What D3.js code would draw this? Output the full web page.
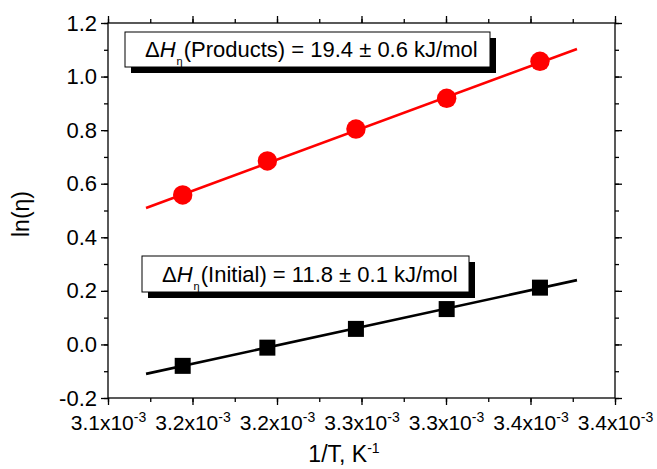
<!DOCTYPE html>
<html>
<head>
<meta charset="utf-8">
<script src="https://cdn.jsdelivr.net/npm/d3@7"></script>
<style>
  html, body { margin: 0; padding: 0; background: #fff; }
  text { font-family: "Liberation Sans", Arial, sans-serif; fill: #000; }
</style>
</head>
<body>
<svg id="chart" width="657" height="469"></svg>
<script>
// ---- data ----
const invT = [3.1442, 3.1943, 3.2467, 3.3004, 3.3556];          // 1/T, x10^-3 K^-1
const lnEtaProducts = [0.558, 0.685, 0.804, 0.919, 1.057];
const lnEtaInitial = [-0.080, -0.012, 0.058, 0.132, 0.212];
const fitX = [3.1225, 3.3775];
const fitProducts = [0.509, 1.103];
const fitInitial = [-0.110, 0.240];
const xTickValues = [3.10, 3.15, 3.20, 3.25, 3.30, 3.35, 3.40];
const xTickLabels = ["3.1", "3.2", "3.2", "3.3", "3.3", "3.4", "3.4"];
const yTickValues = [-0.2, 0.0, 0.2, 0.4, 0.6, 0.8, 1.0, 1.2];
const yTickLabels = ["-0.2", "0.0", "0.2", "0.4", "0.6", "0.8", "1.0", "1.2"];
const annProducts = ["(Products) = 19.4 \u00b1 0.6 kJ/mol"];
const annInitial = ["(Initial) = 11.8 \u00b1 0.1 kJ/mol"];

const svg = d3.select("#chart");
const L = 108, R = 615, T = 23, B = 398;
const x = d3.scaleLinear().domain([3.10, 3.40]).range([L, R]);
const y = d3.scaleLinear().domain([-0.2, 1.2]).range([B, T]);

const fsX = 21, fsY = 22, fsTitle = 23, fsAnn = 22;

// frame
svg.append("rect").attr("x", L).attr("y", T).attr("width", R - L).attr("height", B - T)
  .attr("fill", "none").attr("stroke", "#000").attr("stroke-width", 1.3);

const xMinor = d3.range(0, 13).map(i => 3.10 + i * 0.025);
const yMinor = d3.range(0, 15).map(i => -0.2 + i * 0.1);

function axisG(axis, tr) {
  const g = svg.append("g").attr("transform", tr).call(axis);
  g.select(".domain").remove();
  g.selectAll("line").attr("stroke", "#000").attr("stroke-width", 1.3);
  return g;
}
// minor ticks
axisG(d3.axisBottom(x).tickValues(xMinor).tickSize(4).tickFormat(""), `translate(0,${B})`);
axisG(d3.axisTop(x).tickValues(xMinor).tickSize(4).tickFormat(""), `translate(0,${T})`);
axisG(d3.axisLeft(y).tickValues(yMinor).tickSize(4).tickFormat(""), `translate(${L},0)`);
axisG(d3.axisRight(y).tickValues(yMinor).tickSize(4).tickFormat(""), `translate(${R},0)`);
// major ticks
const xb = axisG(d3.axisBottom(x).tickValues(xTickValues).tickSize(7).tickPadding(5).tickFormat(""), `translate(0,${B})`);
axisG(d3.axisTop(x).tickValues(xTickValues).tickSize(7).tickFormat(""), `translate(0,${T})`);
const yl = axisG(d3.axisLeft(y).tickValues(yTickValues).tickSize(7).tickPadding(4)
  .tickFormat((d, i) => yTickLabels[i]), `translate(${L},0)`);
axisG(d3.axisRight(y).tickValues(yTickValues).tickSize(7).tickFormat(""), `translate(${R},0)`);

yl.selectAll("text").style("font-size", fsY + "px").attr("fill", "#000")
  .style("font-family", "'Liberation Sans', Arial, sans-serif");

// x tick labels with x10^-3
xb.selectAll(".tick").each(function(d, i) {
  const t = d3.select(this).append("text")
    .attr("y", 32).attr("text-anchor", "middle")
    .style("font-size", fsX + "px");
  t.append("tspan").text(xTickLabels[i] + "x10");
  t.append("tspan").attr("dy", -8).style("font-size", "14px").text("-3");
});

// axis titles
const xt = svg.append("text").attr("x", 344).attr("y", 462).attr("text-anchor", "middle")
  .style("font-size", fsTitle + "px");
xt.append("tspan").text("1/T, K");
xt.append("tspan").attr("dy", -9).style("font-size", "14px").text("-1");

svg.append("text").attr("transform", "translate(29,214) rotate(-90)")
  .attr("text-anchor", "middle").style("font-size", fsTitle + "px").text("ln(\u03b7)");

// fit lines
const line = d3.line().x(d => x(d[0])).y(d => y(d[1]));
svg.append("path").datum(fitX.map((v, i) => [v, fitProducts[i]]))
  .attr("d", line).attr("stroke", "#ff0000").attr("stroke-width", 2.6).attr("fill", "none");
svg.append("path").datum(fitX.map((v, i) => [v, fitInitial[i]]))
  .attr("d", line).attr("stroke", "#000").attr("stroke-width", 2.6).attr("fill", "none");

// markers
svg.append("g").selectAll("circle").data(invT.map((v, i) => [v, lnEtaProducts[i]]))
  .join("circle").attr("cx", d => x(d[0])).attr("cy", d => y(d[1])).attr("r", 9.7)
  .attr("fill", "#ff0000");
const sq = 16;
svg.append("g").selectAll("rect").data(invT.map((v, i) => [v, lnEtaInitial[i]]))
  .join("rect").attr("x", d => x(d[0]) - sq / 2).attr("y", d => y(d[1]) - sq / 2)
  .attr("width", sq).attr("height", sq).attr("fill", "#000");

// annotation boxes
function annotation(bx, by, bw, bh, rest) {
  const g = svg.append("g");
  g.append("rect").attr("x", bx + 6).attr("y", by + 6).attr("width", bw).attr("height", bh).attr("fill", "#000");
  g.append("rect").attr("x", bx).attr("y", by).attr("width", bw).attr("height", bh)
    .attr("fill", "#fff").attr("stroke", "#000").attr("stroke-width", 1);
  const t = g.append("text").attr("x", bx + 20).attr("y", by + bh / 2 + 7.5).style("font-size", fsAnn + "px");
  t.append("tspan").text("\u0394");
  t.append("tspan").style("font-style", "italic").text("H");
  t.append("tspan").attr("dy", 8).attr("dx", 1).style("font-size", "11px").text("\u03b7");
  t.append("tspan").attr("dy", -8).attr("dx", 1).text(rest[0]);
}
annotation(125, 32, 365, 35, annProducts);
annotation(142, 256, 327, 36, annInitial);
</script>
</body>
</html>
